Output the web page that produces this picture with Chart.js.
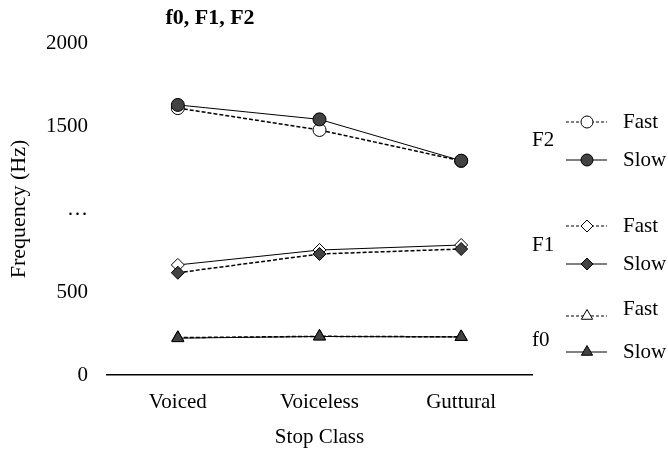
<!DOCTYPE html>
<html>
<head>
<meta charset="utf-8">
<script src="https://cdn.jsdelivr.net/npm/chart.js@4"></script>
<style>
  html, body { margin: 0; padding: 0; background: #fff; }
  #wrap { width: 668px; height: 454px; }
</style>
</head>
<body>
<div id="wrap"><canvas id="formants" width="668" height="454"></canvas></div>
<script>
// data (Hz)
var categories = ["Voiced", "Voiceless", "Guttural"];
var f2Slow = [1627, 1540, 1291];
var f2Fast = [1608, 1476, 1290];
var f1Slow = [616, 729, 759];
var f1Fast = [663, 753, 783];
var f0Slow = [222, 232, 229];
var f0Fast = [225, 233, 230];
var yTickValues = [0, 500, 1000, 1500, 2000];
var yTickLabels = ["0", "500", "\u2026", "1500", "2000"];

var serif = "'Liberation Serif', 'DejaVu Serif', serif";
var dark = "#424242";

function series(label, data, style, filled, dashed) {
    return {
        label: label,
        data: data,
        borderColor: "#000",
        borderWidth: dashed ? 1.5 : 1,
        borderDash: dashed ? [4, 2] : [],
        pointStyle: style,
        pointRadius: style === "triangle" ? 7 : 6.5,
        pointBackgroundColor: filled ? dark : "#fff",
        pointBorderColor: "#000",
        pointBorderWidth: 1,
        fill: false,
        tension: 0
    };
}

// side legend, grouped by measure
var legendGroups = [
    { name: "F2", y: 140, rows: [["Fast", "circle", false, true, 122], ["Slow", "circle", true, false, 160]] },
    { name: "F1", y: 245, rows: [["Fast", "rectRot", false, true, 226], ["Slow", "rectRot", true, false, 264]] },
    { name: "f0", y: 340, rows: [["Fast", "triangle", false, true, 316, 309], ["Slow", "triangle", true, false, 352]] }
];

var extras = {
    id: "extras",
    afterDraw: function (chart) {
        var ctx = chart.ctx;
        ctx.save();
        ctx.fillStyle = "#000";
        ctx.textBaseline = "middle";
        ctx.font = "bold 22px " + serif;
        ctx.textAlign = "center";
        ctx.fillText("f0, F1, F2", 210, 18);

        ctx.font = "21px " + serif;
        legendGroups.forEach(function (g) {
            ctx.textAlign = "left";
            ctx.fillStyle = "#000";
            ctx.fillText(g.name, 532, g.y);
            g.rows.forEach(function (r) {
                var y = r[4];
                ctx.strokeStyle = "#000";
                ctx.lineWidth = 1;
                ctx.setLineDash(r[3] ? [3, 2] : []);
                ctx.beginPath();
                ctx.moveTo(566, y);
                ctx.lineTo(607, y);
                ctx.stroke();
                ctx.setLineDash([]);
                ctx.fillStyle = r[2] ? dark : "#fff";
                Chart.helpers.drawPoint(ctx, {
                    pointStyle: r[1],
                    radius: r[1] === "triangle" ? 6.5 : 6,
                    rotation: 0,
                    borderWidth: 1
                }, 587, y);
                ctx.fillStyle = "#000";
                ctx.fillText(r[0], 623, r[5] || y);
            });
        });
        ctx.restore();
    }
};

var formantChart = new Chart(document.getElementById("formants").getContext("2d"), {
    type: "line",
    data: {
        labels: categories,
        datasets: [
            series("F2 Slow", f2Slow, "circle", true, false),
            series("F2 Fast", f2Fast, "circle", false, true),
            series("F1 Slow", f1Slow, "rectRot", true, true),
            series("F1 Fast", f1Fast, "rectRot", false, false),
            series("f0 Slow", f0Slow, "triangle", true, false),
            series("f0 Fast", f0Fast, "triangle", false, true)
        ]
    },
    options: {
        responsive: false,
        animation: false,
        layout: { padding: { top: 43, right: 136, left: 0, bottom: 0 } },
        plugins: {
            legend: { display: false },
            title: { display: false },
            tooltip: { enabled: false }
        },
        scales: {
            x: {
                type: "category",
                offset: true,
                grid: { display: false, drawTicks: false },
                border: { display: true, color: "#000", width: 1.5 },
                ticks: { color: "#000", font: { family: serif, size: 21 }, padding: 15, maxRotation: 0 },
                title: { display: true, text: "Stop Class", color: "#000", font: { family: serif, size: 21 }, padding: { top: 0, bottom: 4 } },
                afterFit: function (scale) { scale.height = 79; }
            },
            y: {
                min: 0,
                max: 2000,
                grid: { display: false, drawTicks: false },
                border: { display: false },
                afterBuildTicks: function (scale) {
                    scale.ticks = yTickValues.map(function (v) { return { value: v }; });
                },
                ticks: {
                    color: "#000",
                    font: { family: serif, size: 21 },
                    padding: 19,
                    callback: function (v) { return yTickLabels[yTickValues.indexOf(v)]; }
                },
                title: { display: true, text: "Frequency (Hz)", color: "#000", font: { family: serif, size: 22 }, padding: { top: 6, bottom: 0 } },
                afterFit: function (scale) { scale.width = 107; }
            }
        }
    },
    plugins: [extras]
});
</script>
</body>
</html>
